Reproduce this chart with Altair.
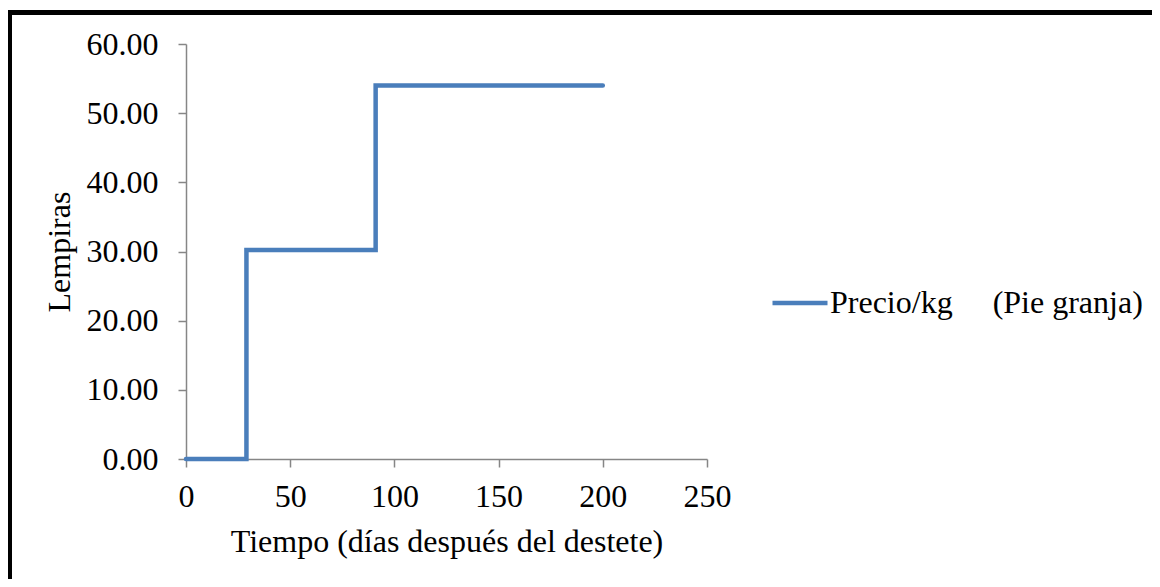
import altair as alt
import pandas as pd

# Data (step changes in price)
dias = [0, 29, 91, 200]
precio = [0.0, 30.2, 54.0, 54.0]
serie = "Precio/kg\u00a0\u00a0\u00a0\u00a0\u00a0(Pie granja)"

y_ticks = [0, 10, 20, 30, 40, 50, 60]
x_ticks = [0, 50, 100, 150, 200, 250]

df = pd.DataFrame({"dias": dias, "precio": precio, "serie": [serie] * len(dias)})

FONT = "Liberation Serif"
FS = 32

line = alt.Chart(df).mark_line(
    interpolate="step-after", strokeWidth=4.5, strokeCap="round", strokeJoin="miter"
).encode(
    x=alt.X("dias:Q", scale=alt.Scale(domain=[0, 250], nice=False),
            axis=alt.Axis(values=x_ticks, title="Tiempo (días después del destete)",
                          labelPadding=14, titlePadding=14, labelFlush=False)),
    y=alt.Y("precio:Q", scale=alt.Scale(domain=[0, 60], nice=False),
            axis=alt.Axis(values=y_ticks, format=".2f", title="Lempiras",
                          labelPadding=20, titlePadding=10)),
    color=alt.Color("serie:N", scale=alt.Scale(range=["#4A7EBB"]),
                    legend=alt.Legend(title=None, orient="none", legendX=584, legendY=229,
                                      symbolType="stroke", symbolSize=3025,
                                      symbolStrokeWidth=4.5, labelFontSize=FS,
                                      labelFont=FONT, labelColor="black",
                                      labelOffset=0, labelLimit=600)),
)

border = alt.Chart(alt.Data(values=[{}])).mark_rect(
    filled=False, stroke="black", strokeWidth=5
).encode(
    x=alt.value(-176.5), x2=alt.value(1300),
    y=alt.value(-31.5), y2=alt.value(900),
)

chart = alt.layer(border, line).properties(
    width=521, height=415,
    autosize=alt.AutoSizeParams(type="none"),
    padding={"left": 178, "top": 36, "right": 445, "bottom": 120},
    background="white",
).configure_view(stroke=None).configure_axis(
    grid=False,
    domainColor="#868686", tickColor="#868686", domainWidth=1.5, tickWidth=1.5,
    tickSize=8, labelFont=FONT, titleFont=FONT, labelFontSize=FS, titleFontSize=FS,
    labelColor="black", titleColor="black", titleFontWeight="normal",
)

chart.save("out.html", embed_options={"renderer": "svg", "actions": False})
